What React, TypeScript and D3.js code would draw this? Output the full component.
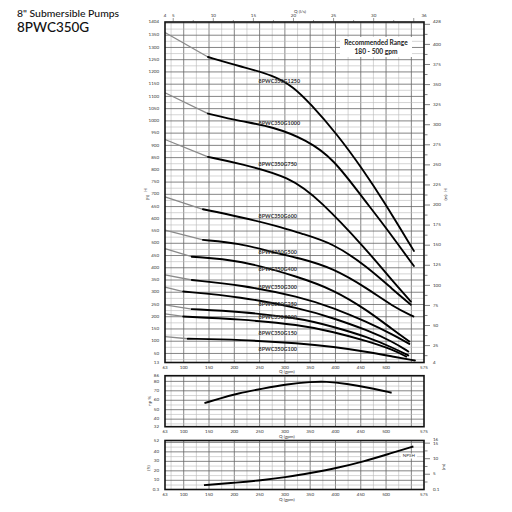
import React from "react";
import * as d3 from "d3";

// ---------- data ----------
const modelNames = [
  "8PWC350G1250", "8PWC350G1000", "8PWC350G750", "8PWC350G600", "8PWC350G500",
  "8PWC350G400", "8PWC350G300", "8PWC350G250", "8PWC350G200", "8PWC350G150", "8PWC350G100",
];
const flow1250 = [63, 148, 211, 277, 317, 350, 402, 455, 494, 555];
const head1250 = [1361, 1261, 1223, 1187, 1139, 1071, 949, 799, 677, 469];
const flow1000 = [63, 148, 211, 277, 343, 396, 452, 494, 555];
const head1000 = [1115, 1030, 999, 976, 922, 845, 690, 580, 407];
const flow750 = [63, 148, 211, 310, 369, 462, 508, 549];
const head750 = [924, 853, 826, 772, 677, 473, 357, 262];
const flow600 = [63, 138, 211, 290, 330, 396, 462, 514, 549];
const head600 = [690, 639, 608, 568, 541, 500, 405, 310, 249];
const flow500 = [63, 138, 211, 270, 330, 396, 462, 514, 554];
const head500 = [554, 514, 500, 466, 439, 398, 317, 241, 201];
const flow400 = [63, 116, 211, 330, 396, 462, 514, 546];
const head400 = [478, 445, 432, 361, 310, 228, 146, 99];
const flow300 = [63, 116, 211, 330, 396, 462, 514, 546];
const head300 = [371, 350, 330, 282, 236, 179, 126, 89];
const flow250 = [63, 99, 211, 330, 396, 462, 514, 544];
const head250 = [321, 303, 282, 235, 194, 146, 97, 58];
const flow200 = [63, 116, 211, 330, 396, 462, 514, 544];
const head200 = [248, 231, 221, 194, 159, 118, 73, 42];
const flow150 = [63, 99, 211, 330, 396, 462, 514, 540];
const head150 = [212, 201, 190, 167, 138, 101, 65, 37];
const flow100 = [63, 108, 211, 330, 396, 462, 514, 557];
const head100 = [119, 110, 106, 92, 77, 57, 37, 21];

const curveFlows = [flow1250, flow1000, flow750, flow600, flow500, flow400, flow300, flow250, flow200, flow150, flow100];
const curveHeads = [head1250, head1000, head750, head600, head500, head400, head300, head250, head200, head150, head100];
const labelHeads = [1161, 989, 820, 608, 461, 393, 320, 248, 198, 130, 67];
const labelFlow = 250;

const effFlow = [141, 175, 205, 257, 304, 353, 380, 422, 468, 511];
const effValues = [57, 62.5, 67, 72.5, 77, 79.5, 80, 77.5, 73, 68];

const npshFlow = [140, 205, 257, 304, 353, 403, 455, 508, 554];
const npshValues = [4.9, 7.6, 10.3, 13.4, 17.9, 23, 29.7, 38.3, 45.7];

const gpmTicks = [63, 100, 150, 200, 250, 300, 350, 400, 450, 500, 575];
const lpsLabels = ["4", "5", "10", "15", "20", "25", "30", "36"];
const lpsValues = [3.975, 5, 10, 15, 20, 25, 30, 36.28];
const ftLabels = [13, ...d3.range(50, 1400, 50), 1404];
const mLabels = [4, ...d3.range(25, 401, 25), 428];
const effLabels = [32, 40, 50, 60, 70, 80, 86];
const npshFtLabels = [0.3, 10, 20, 30, 40, 52];
const npshMLabels = [0.1, 5, 10, 15, 16];

// ---------- layout ----------
const FONT = "Lato, 'Open Sans', sans-serif";
const X0 = 165, X1 = 424;
const x = d3.scaleLinear().domain([63, 575]).range([X0, X1]);
const xLps = d3.scaleLinear().domain([3.975, 36.28]).range([X0, X1]);
const yMain = d3.scaleLinear().domain([13, 1404]).range([362.5, 22]);
const yMainM = d3.scaleLinear().domain([3.96, 427.9]).range([362.5, 22]);
const yEff = d3.scaleLinear().domain([32, 86]).range([426.7, 375.7]);
const yNpsh = d3.scaleLinear().domain([0.3, 52]).range([489.5, 440.5]);
const yNpshM = d3.scaleLinear().domain([0.0914, 15.85]).range([489.5, 440.5]);

const MAJ = "#666", MIN = "#b8b8b8";

function VGrid({ y0, y1 }: { y0: number; y1: number }) {
  return (
    <g>
      {d3.range(75, 575, 25).map((q) => (
        <line key={q} x1={x(q)} x2={x(q)} y1={y0} y2={y1}
          stroke={q % 50 === 0 ? MAJ : MIN} strokeWidth={q % 50 === 0 ? 0.8 : 0.6} />
      ))}
    </g>
  );
}

function HGrid({ scale, values, majorEvery }: { scale: any; values: number[]; majorEvery: number }) {
  return (
    <g>
      {values.map((v) => (
        <line key={v} x1={X0} x2={X1} y1={scale(v)} y2={scale(v)}
          stroke={v % majorEvery === 0 ? MAJ : MIN} strokeWidth={v % majorEvery === 0 ? 0.8 : 0.6} />
      ))}
    </g>
  );
}

function BottomAxis({ y, titleY }: { y: number; titleY: number }) {
  return (
    <g fontFamily={FONT} fontSize={4.5} fill="#333" textAnchor="middle">
      {gpmTicks.map((q) => (
        <text key={q} x={x(q)} y={y} dominantBaseline="middle">{q}</text>
      ))}
      <text x={x(300) + 2} y={titleY} dominantBaseline="middle">Q (gpm)</text>
    </g>
  );
}

export default function App() {
  const lineStraight = d3.line<[number, number]>();
  const lineSmooth = d3.line<[number, number]>().curve(d3.curveBasis);

  const curves = curveFlows.map((fl, i) => {
    const pts: [number, number][] = fl.map((q, j) => [x(q), yMain(curveHeads[i][j])]);
    return { gray: lineStraight(pts.slice(0, 2)) as string, black: lineSmooth(pts.slice(1)) as string };
  });

  const effPath = lineSmooth(effFlow.map((q, j) => [x(q), yEff(effValues[j])] as [number, number])) as string;
  const npshPath = lineSmooth(npshFlow.map((q, j) => [x(q), yNpsh(npshValues[j])] as [number, number])) as string;

  return (
    <svg width={512} height={512} style={{ position: "absolute", left: 0, top: 0, background: "#fff" }}>
      <rect width={512} height={512} fill="#fff" />
      {/* title */}
      <text x={17} y={16.5} fontFamily={FONT} fontSize={10.4} fontWeight={500} fill="#111">8" Submersible Pumps</text>
      <text x={17} y={32} fontFamily={FONT} fontSize={13.5} fontWeight={500} fill="#111">8PWC350G</text>

      {/* ---------- main panel ---------- */}
      <VGrid y0={22} y1={362.5} />
      <HGrid scale={yMain} values={d3.range(25, 1404, 25)} majorEvery={50} />
      {/* recommended range box */}
      <rect x={340} y={37} width={72} height={20} fill="#fff" />
      <g fontFamily={FONT} fontSize={6.6} fontWeight={700} fill="#222" textAnchor="middle">
        <text x={376} y={43.5} dominantBaseline="middle">Recommended Range</text>
        <text x={376} y={52} dominantBaseline="middle">180 - 500 gpm</text>
      </g>
      {curves.map((c, i) => (
        <g key={i}>
          <path d={c.gray} fill="none" stroke="#8a8a8a" strokeWidth={1.3} />
          <path d={c.black} fill="none" stroke="#000" strokeWidth={1.9} strokeLinecap="round" />
        </g>
      ))}
      <g fontFamily={FONT} fontSize={5.4} fontWeight={700} fill="#333">
        {modelNames.map((n, i) => (
          <text key={n} x={x(labelFlow) - 1} y={yMain(labelHeads[i])} dominantBaseline="middle">{n}</text>
        ))}
      </g>
      <rect x={X0} y={22} width={X1 - X0} height={362.5 - 22} fill="none" stroke="#111" strokeWidth={1.6} />
      {/* top axis l/s */}
      <g>
        {d3.range(5, 36, 2.5).map((v) => (
          <line key={v} x1={xLps(v)} x2={xLps(v)} y1={22} y2={v % 5 === 0 ? 18 : 20} stroke="#333" strokeWidth={0.5} />
        ))}
        <g fontFamily={FONT} fontSize={4.5} fill="#333" textAnchor="middle">
          {lpsLabels.map((l, i) => (
            <text key={l} x={xLps(lpsValues[i])} y={16} dominantBaseline="middle">{l}</text>
          ))}
          <text x={300} y={12} dominantBaseline="middle">Q (l/s)</text>
        </g>
      </g>
      {/* left axis ft */}
      <g fontFamily={FONT} fontSize={4.5} fill="#333" textAnchor="end">
        {ftLabels.map((v) => (
          <text key={v} x={159} y={yMain(v)} dominantBaseline="middle">{v}</text>
        ))}
        <text transform={`translate(146,190) rotate(-90)`} textAnchor="middle" dominantBaseline="middle">H</text>
        <text transform={`translate(148,197.5) rotate(-90)`} textAnchor="middle" dominantBaseline="middle">(ft)</text>
      </g>
      {/* right axis m */}
      <g>
        {d3.range(12.5, 428, 12.5).map((v) => (
          <line key={v} x1={X1} x2={X1 + (v % 25 === 0 ? 6 : 3.5)} y1={yMainM(v)} y2={yMainM(v)} stroke="#333" strokeWidth={0.6} />
        ))}
        <g fontFamily={FONT} fontSize={4.5} fill="#333" textAnchor="start">
          {mLabels.map((v) => (
            <text key={v} x={433} y={yMainM(v === 4 ? 3.96 : v === 428 ? 427.9 : v)} dominantBaseline="middle">{v}</text>
          ))}
          <text transform={`translate(446,190) rotate(-90)`} textAnchor="middle" dominantBaseline="middle">H</text>
          <text transform={`translate(446,197.5) rotate(-90)`} textAnchor="middle" dominantBaseline="middle">(m)</text>
        </g>
      </g>
      <BottomAxis y={367.5} titleY={372} />

      {/* ---------- efficiency panel ---------- */}
      <VGrid y0={375.7} y1={426.7} />
      <HGrid scale={yEff} values={d3.range(35, 86, 5)} majorEvery={10} />
      <path d={effPath} fill="none" stroke="#000" strokeWidth={1.9} />
      <rect x={X0} y={375.7} width={X1 - X0} height={51} fill="none" stroke="#111" strokeWidth={1.6} />
      <g fontFamily={FONT} fontSize={4.5} fill="#333" textAnchor="end">
        {effLabels.map((v) => (
          <text key={v} x={159} y={yEff(v)} dominantBaseline="middle">{v}</text>
        ))}
        <text transform={`translate(150,401) rotate(-90)`} textAnchor="middle" dominantBaseline="middle">ηp %</text>
      </g>
      <BottomAxis y={431.5} titleY={436.5} />

      {/* ---------- NPSH panel ---------- */}
      <VGrid y0={440.5} y1={489.5} />
      <HGrid scale={yNpsh} values={d3.range(5, 52, 5)} majorEvery={10} />
      <path d={npshPath} fill="none" stroke="#000" strokeWidth={1.9} />
      <rect x={X0} y={440.5} width={X1 - X0} height={49} fill="none" stroke="#111" strokeWidth={1.6} />
      <g fontFamily={FONT} fontSize={4.5} fill="#333">
        {npshFtLabels.map((v) => (
          <text key={v} x={159} y={yNpsh(v)} textAnchor="end" dominantBaseline="middle">{v}</text>
        ))}
        <text transform={`translate(149,468) rotate(-90)`} textAnchor="middle" dominantBaseline="middle">(ft)</text>
        <rect x={x(545) - 8} y={yNpsh(35.6) - 2.5} width={16} height={5} fill="#fff" />
        <text x={x(545)} y={yNpsh(35.6)} textAnchor="middle" dominantBaseline="middle">NPSH</text>
      </g>
      <g>
        {d3.range(2.5, 16, 2.5).map((v) => (
          <line key={v} x1={X1} x2={X1 + (v % 5 === 0 ? 6 : 3.5)} y1={yNpshM(v)} y2={yNpshM(v)} stroke="#333" strokeWidth={0.6} />
        ))}
        <g fontFamily={FONT} fontSize={4.5} fill="#333" textAnchor="start">
          {npshMLabels.map((v) => (
            <text key={v} x={433} y={yNpshM(v === 16 ? 15.85 : v === 0.1 ? 0.0914 : v) - (v === 16 ? 1 : 0) + (v === 15 ? 1 : 0)} dominantBaseline="middle">{v}</text>
          ))}
          <text transform={`translate(444,467) rotate(-90)`} textAnchor="middle" dominantBaseline="middle">(m)</text>
        </g>
      </g>
      <BottomAxis y={494.5} titleY={500} />
    </svg>
  );
}
